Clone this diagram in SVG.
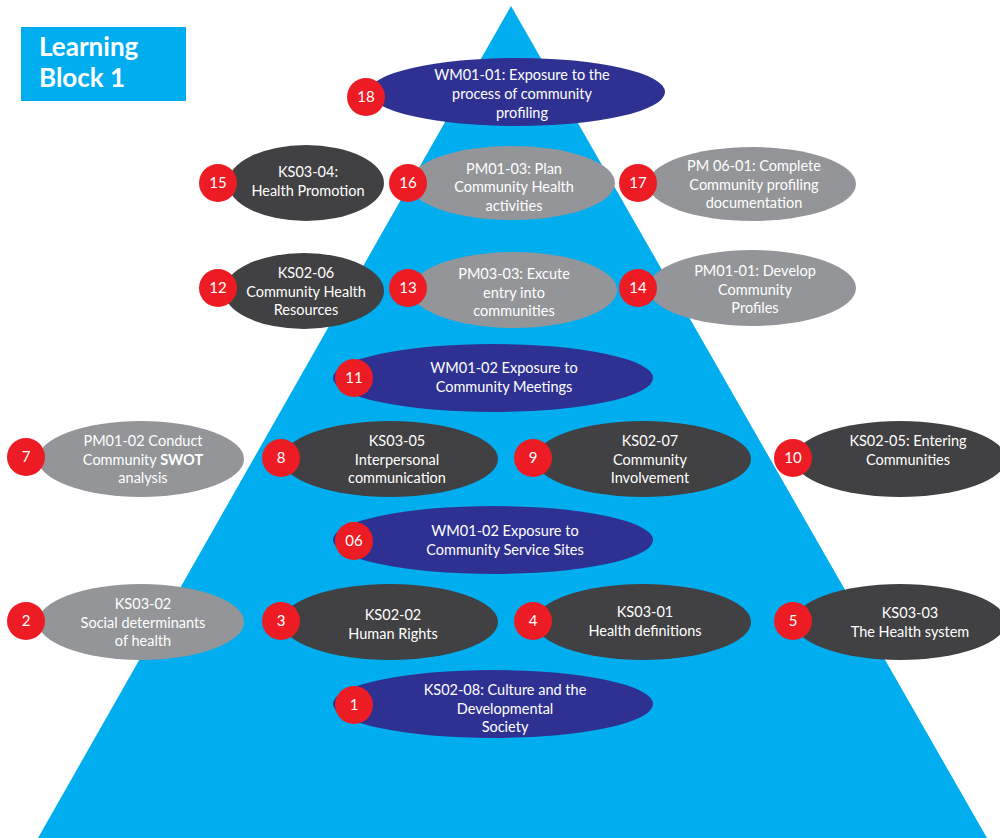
<svg xmlns="http://www.w3.org/2000/svg" width="1000" height="838" viewBox="0 0 1000 838">
<style>
.t{font-family:Lato,"Liberation Sans",sans-serif;font-size:14.5px;fill:#fff;text-anchor:middle}
.n{font-family:Lato,"Liberation Sans",sans-serif;font-size:15px;fill:#fff;text-anchor:middle}
.navy{fill:#2E3192}
.dark{fill:#414042}
.gray{fill:#939598}
.red{fill:#ED1C24}
</style>
<rect width="1000" height="838" fill="#fff"/>
<polygon points="511,6 38,838 987,838" fill="#00AEEF"/>
<g id="title">
<rect x="21" y="27" width="165" height="74" fill="#00AEEF"/>
<text x="39" y="56" font-family="Lato,'Liberation Sans',sans-serif" font-size="26" font-weight="bold" fill="#fff">Learning</text>
<text x="39" y="87" font-family="Lato,'Liberation Sans',sans-serif" font-size="26" font-weight="bold" fill="#fff">Block 1</text>
</g>
<g id="connectors"></g>
<g id="n18"><ellipse cx="517" cy="92" rx="148" ry="34" class="navy"/><text class="t" x="522" y="80">WM01-01: Exposure to the</text><text class="t" x="522" y="99">process of community</text><text class="t" x="522" y="118">profiling</text><circle cx="366" cy="97" r="19" class="red"/><text class="n" x="366" y="102">18</text></g>
<g id="n15"><ellipse cx="306" cy="183" rx="78" ry="38" class="dark"/><text class="t" x="308" y="177">KS03-04:</text><text class="t" x="308" y="196">Health Promotion</text><circle cx="218" cy="183" r="19" class="red"/><text class="n" x="218" y="188">15</text></g>
<g id="n16"><ellipse cx="512" cy="183" rx="103" ry="37" class="gray"/><text class="t" x="514" y="174">PM01-03: Plan</text><text class="t" x="514" y="192">Community Health</text><text class="t" x="514" y="211">activities</text><circle cx="408" cy="183" r="19" class="red"/><text class="n" x="408" y="188">16</text></g>
<g id="n17"><ellipse cx="752" cy="184" rx="104" ry="37" class="gray"/><text class="t" x="754" y="171">PM 06-01: Complete</text><text class="t" x="754" y="190">Community profiling</text><text class="t" x="754" y="208">documentation</text><circle cx="638" cy="183" r="19" class="red"/><text class="n" x="638" y="188">17</text></g>
<g id="n12"><ellipse cx="304" cy="291" rx="80" ry="38" class="dark"/><text class="t" x="306" y="278">KS02-06</text><text class="t" x="306" y="297">Community Health</text><text class="t" x="306" y="315">Resources</text><circle cx="218" cy="288" r="19" class="red"/><text class="n" x="218" y="293">12</text></g>
<g id="n13"><ellipse cx="514" cy="290" rx="103" ry="38" class="gray"/><text class="t" x="514" y="279">PM03-03: Excute</text><text class="t" x="514" y="298">entry into</text><text class="t" x="514" y="316">communities</text><circle cx="408" cy="288" r="19" class="red"/><text class="n" x="408" y="293">13</text></g>
<g id="n14"><ellipse cx="752" cy="288" rx="104" ry="38" class="gray"/><text class="t" x="755" y="276">PM01-01: Develop</text><text class="t" x="755" y="295">Community</text><text class="t" x="755" y="313">Profiles</text><circle cx="638" cy="288" r="19" class="red"/><text class="n" x="638" y="293">14</text></g>
<g id="n11"><ellipse cx="493" cy="378" rx="160" ry="34" class="navy"/><text class="t" x="504" y="373">WM01-02 Exposure to</text><text class="t" x="504" y="392">Community Meetings</text><circle cx="354" cy="378" r="19" class="red"/><text class="n" x="354" y="383">11</text></g>
<g id="n7"><ellipse cx="141" cy="459" rx="103" ry="38" class="gray"/><text class="t" x="143" y="446">PM01-02 Conduct</text><text class="t" x="143" y="465">Community <tspan font-weight="bold">SWOT</tspan></text><text class="t" x="143" y="483">analysis</text><circle cx="26" cy="457" r="19" class="red"/><text class="n" x="26" y="462">7</text></g>
<g id="n8"><ellipse cx="390" cy="459" rx="108" ry="38" class="dark"/><text class="t" x="397" y="446">KS03-05</text><text class="t" x="397" y="465">Interpersonal</text><text class="t" x="397" y="483">communication</text><circle cx="281" cy="458" r="19" class="red"/><text class="n" x="281" y="463">8</text></g>
<g id="n9"><ellipse cx="643" cy="459" rx="108" ry="38" class="dark"/><text class="t" x="650" y="446">KS02-07</text><text class="t" x="650" y="465">Community</text><text class="t" x="650" y="483">Involvement</text><circle cx="533" cy="458" r="19" class="red"/><text class="n" x="533" y="463">9</text></g>
<g id="n10"><ellipse cx="900" cy="459" rx="106" ry="38" class="dark"/><text class="t" x="908" y="446">KS02-05: Entering</text><text class="t" x="908" y="465">Communities</text><circle cx="793" cy="458" r="19" class="red"/><text class="n" x="793" y="463">10</text></g>
<g id="n06"><ellipse cx="493" cy="540" rx="160" ry="34" class="navy"/><text class="t" x="505" y="536">WM01-02 Exposure to</text><text class="t" x="505" y="555">Community Service Sites</text><circle cx="354" cy="541" r="19" class="red"/><text class="n" x="354" y="546">06</text></g>
<g id="n2"><ellipse cx="141" cy="622" rx="103" ry="38" class="gray"/><text class="t" x="143" y="609">KS03-02</text><text class="t" x="143" y="628">Social determinants</text><text class="t" x="143" y="646">of health</text><circle cx="26" cy="621" r="19" class="red"/><text class="n" x="26" y="626">2</text></g>
<g id="n3"><ellipse cx="390" cy="622" rx="108" ry="38" class="dark"/><text class="t" x="393" y="620">KS02-02</text><text class="t" x="393" y="639">Human Rights</text><circle cx="281" cy="621" r="19" class="red"/><text class="n" x="281" y="626">3</text></g>
<g id="n4"><ellipse cx="643" cy="622" rx="108" ry="38" class="dark"/><text class="t" x="645" y="617">KS03-01</text><text class="t" x="645" y="636">Health definitions</text><circle cx="533" cy="621" r="19" class="red"/><text class="n" x="533" y="626">4</text></g>
<g id="n5"><ellipse cx="900" cy="622" rx="106" ry="38" class="dark"/><text class="t" x="910" y="618">KS03-03</text><text class="t" x="910" y="637">The Health system</text><circle cx="793" cy="621" r="19" class="red"/><text class="n" x="793" y="626">5</text></g>
<g id="n1"><ellipse cx="493" cy="704" rx="160" ry="34" class="navy"/><text class="t" x="505" y="695">KS02-08: Culture and the</text><text class="t" x="505" y="714">Developmental</text><text class="t" x="505" y="732">Society</text><circle cx="354" cy="705" r="19" class="red"/><text class="n" x="354" y="710">1</text></g>
</svg>
